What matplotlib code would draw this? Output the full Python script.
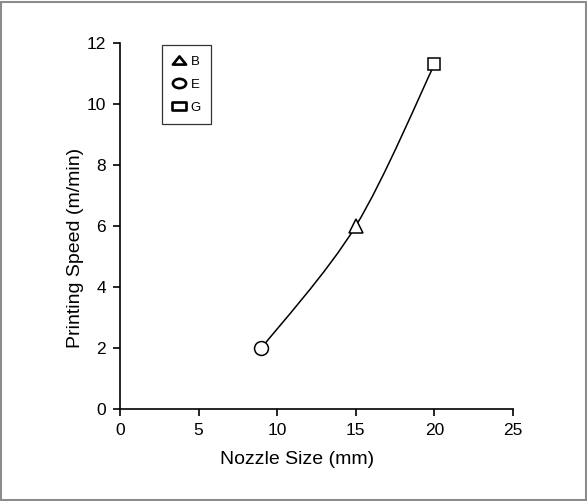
import numpy as np
import matplotlib.pyplot as plt
from matplotlib.path import Path
from matplotlib.patches import PathPatch, Rectangle
from matplotlib.lines import Line2D

plt.rcParams['font.family'] = ['Liberation Sans', 'DejaVu Sans']

labels = ['E', 'B', 'G']
nozzle = [9, 15, 20]
speed = [2, 6, 11.3]
markers = {'B': '^', 'E': 'o', 'G': 's'}
legend_order = ['B', 'E', 'G']


def squashed(kind, k=0.62):
    # legend symbols are drawn flattened in the original
    if kind == 's':
        v = [(-1, -k), (1, -k), (1, k), (-1, k), (-1, -k)]
        return Path(v, [Path.MOVETO] + [Path.LINETO] * 3 + [Path.CLOSEPOLY])
    if kind == '^':
        v = [(-1, -k), (1, -k), (0, k), (-1, -k)]
        return Path(v, [Path.MOVETO] + [Path.LINETO] * 2 + [Path.CLOSEPOLY])
    c = Path.unit_circle()
    return Path(c.vertices * [1, 0.7], c.codes)


fig = plt.figure(figsize=(5.87, 5.01), dpi=100)
ax = fig.add_axes([120 / 587, 92 / 501, 393 / 587, 366 / 501])

# smooth curve through the points (Catmull-Rom -> cubic bezier)
pts = np.column_stack([nozzle, speed]).astype(float)
verts = [tuple(pts[0])]
codes = [Path.MOVETO]
for i in range(len(pts) - 1):
    p0 = pts[i - 1] if i > 0 else pts[i]
    p1 = pts[i]
    p2 = pts[i + 1]
    p3 = pts[i + 2] if i + 2 < len(pts) else pts[i + 1]
    c1 = p1 + (p2 - p0) / 6
    c2 = p2 - (p3 - p1) / 6
    verts += [tuple(c1), tuple(c2), tuple(p2)]
    codes += [Path.CURVE4] * 3
ax.add_patch(PathPatch(Path(verts, codes), fill=False, color='black', lw=1.1))

sizes = {'E': 10, 'B': 9.5, 'G': 8.5}
for lab, x, y in zip(labels, nozzle, speed):
    ax.plot(x, y, marker=markers[lab], ms=sizes[lab], mfc='white', mec='black',
            mew=1.1, ls='none', zorder=3)

ax.set_xlim(0, 25)
ax.set_ylim(0, 12)
ax.set_xticks(range(0, 26, 5))
ax.set_yticks(range(0, 13, 2))
ax.spines['top'].set_visible(False)
ax.spines['right'].set_visible(False)
for s in ['left', 'bottom']:
    ax.spines[s].set_linewidth(1.2)
ax.tick_params(direction='out', length=5, width=1.2, labelsize=12.5, pad=5)
ax.set_xlabel('Nozzle Size (mm)', fontsize=14)
ax.set_ylabel('Printing Speed (m/min)', fontsize=14)
ax.xaxis.set_label_coords(0.45, -0.116)
ax.yaxis.set_label_coords(-0.092, 0.44)

handles = [Line2D([], [], marker=squashed(markers[k]), ms=9.5, mfc='white',
                  mec='black', mew=1.9, ls='none') for k in legend_order]
leg = ax.legend(handles, legend_order, loc='upper left',
                bbox_to_anchor=(0.107, 0.995), borderaxespad=0, fontsize=9.5,
                frameon=True, fancybox=False, edgecolor='black',
                handletextpad=0.35, borderpad=0.8, labelspacing=0.82,
                handlelength=1.0)
leg.get_frame().set_linewidth(0.9)

fig.patches.append(Rectangle((0.002, 0.002), 0.996, 0.994, transform=fig.transFigure,
                             fill=False, edgecolor='#8c8c8c', lw=1.5))

fig.savefig('out.png', dpi=100)
